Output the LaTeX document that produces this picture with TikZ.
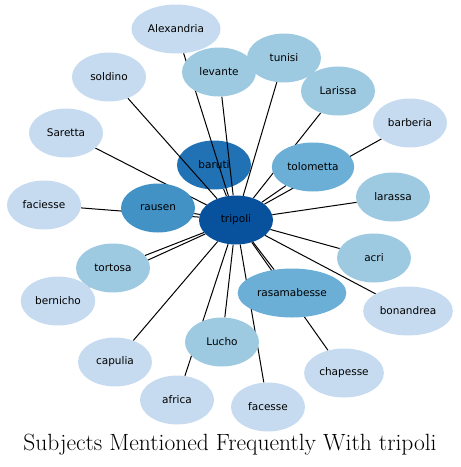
\documentclass[tikz,border=0pt]{standalone}
\usepackage{fontspec}
\newfontfamily\etiqfont{DejaVu Sans}
\usetikzlibrary{shapes.geometric}
\pgfdeclarelayer{fondo}
\pgfdeclarelayer{aristas}
\pgfsetlayers{fondo,aristas,main}

\begin{document}
\begin{tikzpicture}[x=1pt, y=-1pt,
    nodo/.style={ellipse, minimum width=74pt, minimum height=49pt,
        inner xsep=3.5pt, inner ysep=0pt, font=\etiqfont\fontsize{10.5}{12}\selectfont},
    claro/.style={nodo, fill=azul1},
    medio/.style={nodo, fill=azul2},
    fuerte/.style={nodo, fill=azul3},
    arista/.style={line width=1pt, black}]

    % Colores (escala de azules)
    \definecolor{azul1}{HTML}{C6DBEF}
    \definecolor{azul2}{HTML}{9ECAE1}
    \definecolor{azul3}{HTML}{6BAED6}
    \definecolor{azul4}{HTML}{4292C6}
    \definecolor{azul5}{HTML}{2171B5}
    \definecolor{azul6}{HTML}{08519C}

    \useasboundingbox (0,0) rectangle (461,467);

    % 1. Nodo central
    \node[nodo, fill=azul6] (tripoli) at (236,220) {tripoli};

    % 2. Nodos de la primera corona
    \begin{pgfonlayer}{fondo}
        \node[nodo, fill=azul5] (baruti) at (214,165) {baruti};
    \end{pgfonlayer}
    \node[nodo, fill=azul4] (rausen) at (158,208) {rausen};
    \node[fuerte] (tolometta) at (313,167) {tolometta};
    \node[fuerte] (rasamabesse) at (292,293) {rasamabesse};

    % 3. Nodos intermedios
    \node[medio] (levante) at (219,72) {levante};
    \node[medio] (tunisi) at (284,58) {tunisi};
    \node[medio] (Larissa) at (338,91) {Larissa};
    \node[medio] (larassa) at (393,197) {larassa};
    \node[medio] (acri) at (374,258) {acri};
    \node[medio] (tortosa) at (113,268) {tortosa};
    \node[medio] (Lucho) at (222,342) {Lucho};

    % 4. Nodos exteriores
    \node[claro] (Alexandria) at (176,29) {Alexandria};
    \node[claro] (soldino) at (109,77) {soldino};
    \node[claro] (Saretta) at (66,133) {Saretta};
    \node[claro] (barberia) at (410,123) {barberia};
    \node[claro] (faciesse) at (44,205) {faciesse};
    \node[claro] (bernicho) at (58,301) {bernicho};
    \node[claro] (bonandrea) at (408,311) {bonandrea};
    \node[claro] (capulia) at (115,362) {capulia};
    \node[claro] (chapesse) at (344,373) {chapesse};
    \node[claro] (africa) at (177,400) {africa};
    \node[claro] (facesse) at (268,407) {facesse};

    % 5. Aristas (debajo de los nodos)
    \begin{pgfonlayer}{aristas}
        \foreach \n in {baruti, rausen, tolometta, rasamabesse, levante, tunisi,
                Larissa, larassa, acri, tortosa, Lucho, Alexandria, soldino,
                Saretta, barberia, faciesse, bernicho, bonandrea, capulia,
                chapesse, africa, facesse} {
            \draw[arista] (tripoli) -- (\n);
        }
    \end{pgfonlayer}

    % 6. Titulo
    \node (titulo) at (230,445) {\fontsize{23.5}{27}\selectfont Subjects Mentioned Frequently With tripoli};

\end{tikzpicture}
\end{document}
